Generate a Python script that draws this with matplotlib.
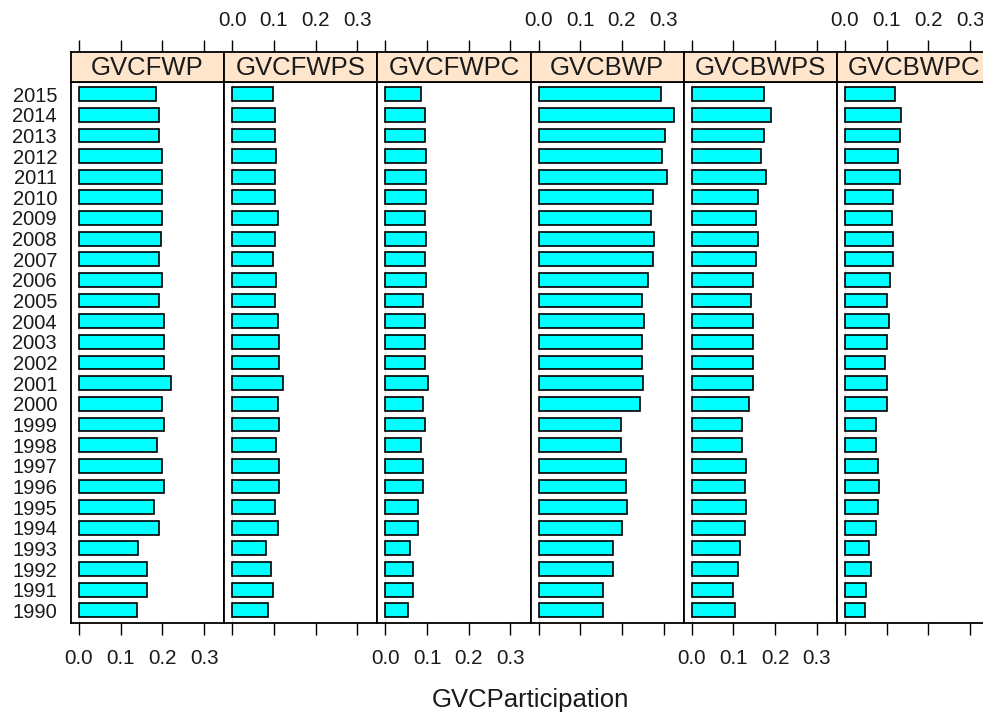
import matplotlib
matplotlib.use("Agg")
import matplotlib.pyplot as plt

plt.rcParams['font.family'] = ['Liberation Sans', 'DejaVu Sans']

# years, bottom (1990) to top (2015)
years = [str(y) for y in range(1990, 2016)]

panels = ["GVCFWP", "GVCFWPS", "GVCFWPC", "GVCBWP", "GVCBWPS", "GVCBWPC"]

# values listed 2015 -> 1990, reversed below
gvcfwp = [0.185, 0.193, 0.193, 0.200, 0.200, 0.200, 0.200, 0.196, 0.193, 0.200,
          0.193, 0.204, 0.204, 0.204, 0.220, 0.200, 0.204, 0.188, 0.200, 0.204,
          0.181, 0.193, 0.142, 0.162, 0.162, 0.138]
gvcfwps = [0.097, 0.102, 0.102, 0.106, 0.102, 0.102, 0.109, 0.102, 0.098, 0.106,
           0.102, 0.109, 0.113, 0.113, 0.121, 0.109, 0.113, 0.106, 0.113, 0.113,
           0.102, 0.109, 0.082, 0.094, 0.098, 0.086]
gvcfwpc = [0.086, 0.094, 0.094, 0.098, 0.098, 0.098, 0.094, 0.098, 0.094, 0.098,
           0.090, 0.094, 0.094, 0.094, 0.102, 0.090, 0.094, 0.086, 0.090, 0.090,
           0.078, 0.078, 0.059, 0.066, 0.066, 0.055]
gvcbwp = [0.293, 0.324, 0.304, 0.297, 0.308, 0.274, 0.270, 0.278, 0.274, 0.262,
          0.247, 0.254, 0.247, 0.247, 0.250, 0.243, 0.197, 0.197, 0.209, 0.209,
          0.212, 0.201, 0.178, 0.178, 0.154, 0.154]
gvcbwps = [0.174, 0.189, 0.174, 0.166, 0.178, 0.158, 0.154, 0.158, 0.154, 0.146,
           0.142, 0.146, 0.146, 0.146, 0.146, 0.138, 0.120, 0.120, 0.131, 0.128,
           0.131, 0.128, 0.116, 0.112, 0.100, 0.104]
gvcbwpc = [0.120, 0.135, 0.131, 0.128, 0.131, 0.116, 0.112, 0.116, 0.116, 0.108,
           0.101, 0.105, 0.101, 0.097, 0.101, 0.101, 0.074, 0.074, 0.078, 0.082,
           0.078, 0.074, 0.058, 0.062, 0.050, 0.047]

series = [gvcfwp, gvcfwps, gvcfwpc, gvcbwp, gvcbwps, gvcbwpc]
xticks = [0.0, 0.1, 0.2, 0.3]

W, H = 983, 713
fig = plt.figure(figsize=(W / 100, H / 100), dpi=100)

panel_w = 153.2
top, bottom, strip_top = 81.7, 622.7, 51.7
xlim = (-0.0192, -0.0192 + panel_w / 416.7)
ypos = list(range(1, len(years) + 1))
txt = '#1a1a1a'

for i, (name, vals) in enumerate(zip(panels, series)):
    left = 71 + i * panel_w
    ax = fig.add_axes([left / W, (H - bottom) / H, panel_w / W, (bottom - top) / H])
    ax.axvline(0, color='#e6e6e6', lw=1, zorder=0)
    ax.barh(ypos, vals[::-1], height=2 / 3, color='#00ffff',
            edgecolor='black', linewidth=1.2, zorder=2)
    ax.set_xlim(xlim)
    ax.set_ylim(0.4, len(years) + 0.6)
    ax.set_xticks(xticks)
    ax.tick_params(axis='x', direction='out', length=8.3, width=1,
                   labelsize=14.8, pad=10.5, labelcolor=txt)
    if i % 2 == 1:
        ax.tick_params(axis='x', labelbottom=False)
    else:
        ax.set_xticklabels([f"{t:.1f}" for t in xticks])
    ax.set_yticks(ypos)
    if i == 0:
        ax.set_yticklabels(years, fontsize=14.5, color=txt)
        ax.tick_params(axis='y', length=0, pad=10)
    else:
        ax.tick_params(axis='y', left=False, labelleft=False)
    for s in ax.spines.values():
        s.set_linewidth(1.3)

    # strip with top axis
    st = fig.add_axes([left / W, (H - top) / H, panel_w / W, (top - strip_top) / H])
    st.set_facecolor('#ffe5cc')
    st.set_xlim(xlim)
    st.set_ylim(0, 1)
    st.set_yticks([])
    st.set_xticks(xticks)
    st.xaxis.tick_top()
    st.tick_params(axis='x', direction='out', length=8.3, width=1,
                   labelsize=14.8, pad=7, bottom=False, labelbottom=False,
                   labelcolor=txt)
    if i % 2 == 0:
        st.tick_params(axis='x', labeltop=False)
    else:
        st.set_xticklabels([f"{t:.1f}" for t in xticks])
    for s in st.spines.values():
        s.set_linewidth(1.3)
    st.text(0.5, 0.45, name, transform=st.transAxes, ha='center', va='center',
            fontsize=18.5, color=txt)

fig.text(530 / W, (H - 700) / H, "GVCParticipation", ha='center', va='center',
         fontsize=18.5, color=txt)

fig.savefig("out.png", dpi=100)
